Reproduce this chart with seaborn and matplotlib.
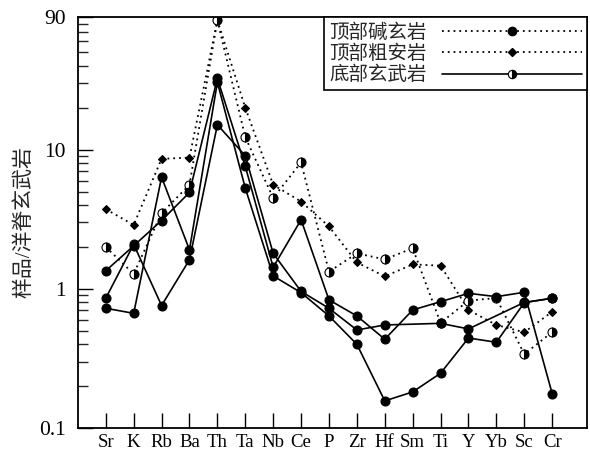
import numpy as np
import pandas as pd
import matplotlib
matplotlib.use('Agg')
import matplotlib.pyplot as plt
from matplotlib.lines import Line2D
from matplotlib.ticker import LogLocator, NullFormatter
import seaborn as sns

elements = ['Sr', 'K', 'Rb', 'Ba', 'Th', 'Ta', 'Nb', 'Ce', 'P', 'Zr',
            'Hf', 'Sm', 'Ti', 'Y', 'Yb', 'Sc', 'Cr']

# solid lines, filled circles
basalt_a = [1.35, 2.04, 3.1, 4.93, 32.5, 7.6, 1.43, 3.14, 0.834, 0.64,
            0.435, 0.706, 0.81, 0.93, 0.88, 0.946, 0.177]
basalt_b = [0.857, 2.09, 0.76, 1.62, 15.1, 9.05, 1.8, 0.96, 0.726, 0.507,
            0.551, np.nan, 0.566, 0.516, np.nan, 0.80, 0.857]
basalt_c = [0.726, 0.668, 6.35, 1.91, 30.5, 5.3, 1.24, 0.94, 0.64, 0.40,
            0.157, 0.182, 0.248, 0.444, 0.414, 0.797, 0.857]
# dotted line, diamonds
trachy = [3.74, 2.88, 8.6, 8.77, 85, 20, 5.6, 4.24, 2.81, 1.55,
          1.23, 1.5, 1.47, 0.706, 0.551, 0.488, 0.686]
# dotted line, half circles
alkali = [2.0, 1.28, 3.5, 5.6, 85, 12.3, 4.5, 8.1, 1.33, 1.8,
          1.63, 1.96, 0.57, 0.824, 0.86, 0.34, 0.49]

legend_labels = ['顶部碱玄岩', '顶部粗安岩', '底部玄武岩']
ylabel = '样品/洋脊玄武岩'

df = pd.DataFrame({'element': elements, 'pos': np.arange(len(elements)),
                   'basalt_a': basalt_a, 'basalt_b': basalt_b,
                   'basalt_c': basalt_c, 'trachy': trachy, 'alkali': alkali})

sns.set_style('ticks')
plt.rcParams['font.family'] = ['Liberation Serif', 'Noto Sans CJK SC']
plt.rcParams['axes.linewidth'] = 1.3

fig = plt.figure(figsize=(5.9, 4.55), dpi=100)
ax = fig.add_axes([0.132, 0.059, 0.863, 0.904])

dots = (0, (1, 2.2))
solid = dict(color='black', linestyle='-', linewidth=1.2, marker='o',
             markersize=6.5, markerfacecolor='black', markeredgecolor='black')
diamond = dict(color='black', linestyle=dots, linewidth=1.3, marker='D',
               markersize=4.5, markerfacecolor='black', markeredgecolor='black')
half = dict(color='black', linestyle=dots, linewidth=1.3, marker='o',
            markersize=6.5, fillstyle='right', markerfacecolor='black',
            markerfacecoloralt='white', markeredgecolor='black',
            markeredgewidth=0.8)

for col, kw in [('trachy', diamond), ('alkali', half), ('basalt_a', solid),
                ('basalt_b', solid), ('basalt_c', solid)]:
    sub = df.dropna(subset=[col])
    sns.lineplot(data=sub, x='pos', y=col, ax=ax, estimator=None, sort=False,
                 legend=False, **kw)

ax.set_yscale('log')
ax.set_ylim(0.1, 90)
ax.set_xlim(-1, 17.25)
ax.set_xticks(df['pos'])
ax.set_xticklabels(elements)
ax.set_yticks([0.1, 1, 10, 90])
ax.set_yticklabels(['0.1', '1', '10', '90'])
ax.yaxis.set_minor_locator(LogLocator(base=10, subs=np.arange(2, 10)))
ax.yaxis.set_minor_formatter(NullFormatter())
ax.tick_params(axis='both', which='major', direction='in', length=11,
               width=1, labelsize=13.5, pad=4, colors='black')
ax.tick_params(axis='y', which='minor', direction='in', length=7, width=1)
ax.tick_params(axis='y', which='major', pad=9, labelsize=15.5)
ax.set_xlabel('')
ax.set_ylabel(ylabel, fontsize=15, labelpad=3)
for s in ax.spines.values():
    s.set_visible(True)
    s.set_color('black')

handles = [
    Line2D([], [], color='black', linestyle=dots, linewidth=1.3, marker='o',
           markersize=6, markerfacecolor='black', markeredgecolor='black'),
    Line2D([], [], color='black', linestyle=dots, linewidth=1.3, marker='D',
           markersize=4, markerfacecolor='black', markeredgecolor='black'),
    Line2D([], [], color='black', linestyle='-', linewidth=1.2, marker='o',
           markersize=6, fillstyle='right', markerfacecolor='black',
           markerfacecoloralt='white', markeredgecolor='black',
           markeredgewidth=0.8),
]
leg = ax.legend(handles, legend_labels, loc='upper right', borderaxespad=0,
                markerfirst=False, handlelength=7.2, handletextpad=0.8,
                labelspacing=0.02, frameon=True, fancybox=False, borderpad=0.25,
                prop={'family': ['Noto Sans CJK SC'], 'size': 14})
leg.get_frame().set_edgecolor('black')
leg.get_frame().set_linewidth(1.2)
leg.get_frame().set_alpha(1)

fig.savefig('out.png', dpi=100)
